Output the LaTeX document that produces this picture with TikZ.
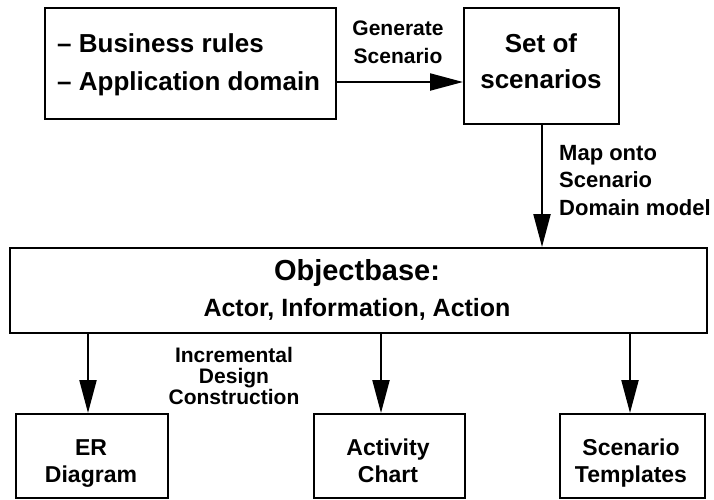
\documentclass[tikz,border=0pt]{standalone}
\usepackage{fontspec}
\setmainfont{Liberation Sans}
\usetikzlibrary{arrows.meta}
\begin{document}
\begin{tikzpicture}[x=1pt,y=-1pt,
  box/.style={draw,line width=2.2pt,inner sep=0pt,anchor=north west},
  link/.style={line width=2.2pt,-{Triangle[length=33pt,width=17pt]}},
  txt/.style={inner sep=0pt,anchor=base,align=center,font=\bfseries}]
\useasboundingbox (0,0) rectangle (714,499);
% boxes
\node[box,minimum width=291pt,minimum height=111pt] (src) at (44,7) {};
\node[box,minimum width=155pt,minimum height=116pt] (set) at (463,7) {};
\node[box,minimum width=697pt,minimum height=85pt] (obj) at (9,247) {};
\node[box,minimum width=152pt,minimum height=84pt] (er) at (15,413) {};
\node[box,minimum width=151pt,minimum height=84pt] (act) at (313,413) {};
\node[box,minimum width=145pt,minimum height=84pt] (tpl) at (559,413) {};
% box texts (multi-line nodes sit on the baseline of their last line)
\node[txt,anchor=base west,align=left,font=\bfseries\fontsize{26}{38}\selectfont] (srcT) at (57,90)
  {-- Business rules\\-- Application domain};
\node[txt,font=\bfseries\fontsize{26}{36}\selectfont] (setT) at (541,88) {Set of\\scenarios};
\node[txt,font=\bfseries\fontsize{29}{34}\selectfont] (objT) at (357,280) {Objectbase:};
\node[txt,font=\bfseries\fontsize{25}{30}\selectfont] (objT2) at (357,316) {Actor, Information, Action};
\node[txt,font=\bfseries\fontsize{23}{27}\selectfont] (erT) at (91,482) {ER\\Diagram};
\node[txt,font=\bfseries\fontsize{23}{27}\selectfont] (actT) at (388,482) {Activity\\Chart};
\node[txt,font=\bfseries\fontsize{23}{27}\selectfont] (tplT) at (631,482) {Scenario\\Templates};
% connectors
\draw[link] (src.east |- 0,82) -- (set.west |- 0,82);
\draw[link] (set.south -| 542,0) -- (obj.north -| 542,0);
\draw[link] (obj.south -| 88,0) -- (er.north -| 88,0);
\draw[link] (obj.south -| 381,0) -- (act.north -| 381,0);
\draw[link] (obj.south -| 630,0) -- (tpl.north -| 630,0);
% connector labels
\node[txt,font=\bfseries\fontsize{21}{28}\selectfont] (gen) at (398,63) {Generate\\Scenario};
\node[txt,anchor=base west,align=left,font=\bfseries\fontsize{22}{27.5}\selectfont] (map) at (559,215)
  {Map onto\\Scenario\\Domain model};
\node[txt,font=\bfseries\fontsize{21}{21}\selectfont] (inc) at (234,404) {Incremental\\Design\\Construction};
\end{tikzpicture}
\end{document}
